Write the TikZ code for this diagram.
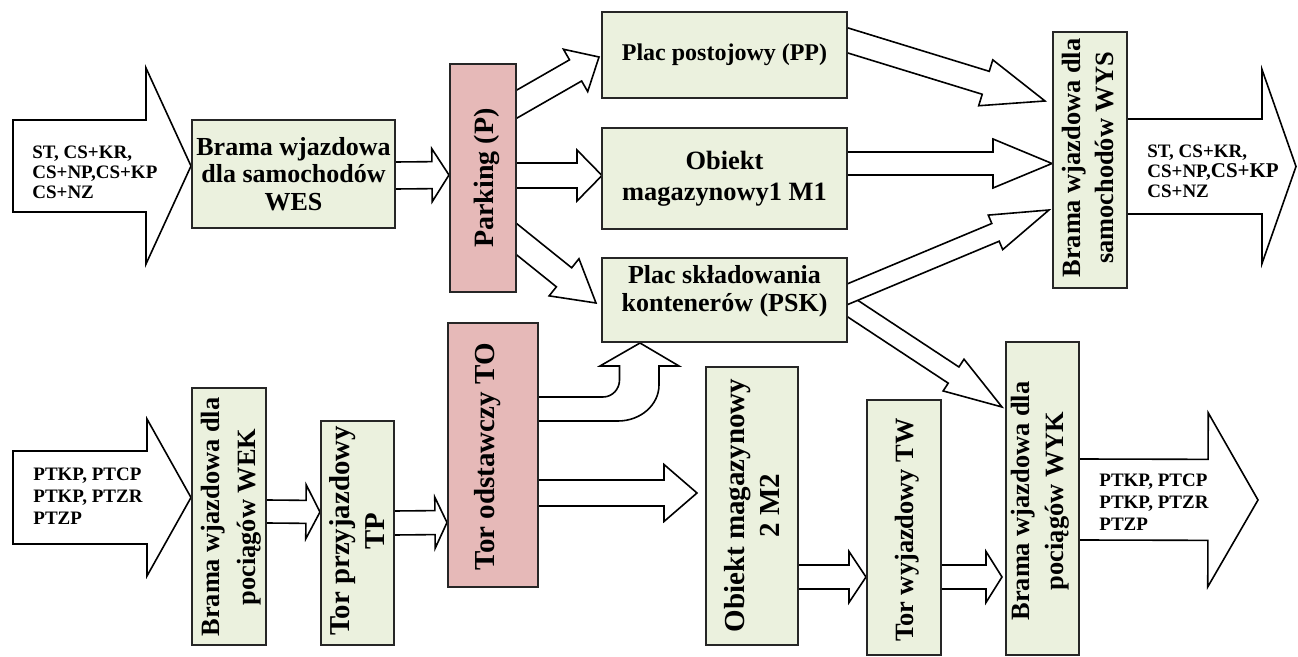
\documentclass[tikz,border=0pt]{standalone}
\usepackage{fontspec}
\setmainfont{Liberation Serif}
\usetikzlibrary{calc}
\pgfdeclarelayer{bg}
\pgfsetlayers{bg,main}
\definecolor{boxgreen}{HTML}{EBF1DE}
\definecolor{boxpink}{HTML}{E6B9B8}
% block arrow: [extension back into source] {start}{tip}{half shaft}{head length}{half head}
\newcommand{\barrow}[6][8pt]{%
  \path ($(#2)!-#1!(#3)$) coordinate (ba-s) ($(#3)!#5!(#2)$) coordinate (ba-c);
  \draw[arrowbody] ($(ba-s)!#4!90:(#3)$) -- ($(ba-c)!#4!90:(#3)$) -- ($(ba-c)!#6!90:(#3)$) -- (#3)
    -- ($(ba-c)!#6!-90:(#3)$) -- ($(ba-c)!#4!-90:(#3)$) -- ($(ba-s)!#4!-90:(#3)$) -- cycle;}
\tikzset{
  arrowbody/.style={draw=black, fill=white, line width=0.8pt, line join=miter},
  gbox/.style={draw=black!85, fill=boxgreen, line width=1pt, inner sep=0pt},
  pbox/.style={gbox, fill=boxpink},
  vtext/.style={rotate=90, align=center, inner sep=0pt},
  htext/.style={align=center, inner sep=0pt},
  lbl/.style={anchor=west, align=left, inner sep=0pt, font=\fontsize{9.5}{10}\selectfont\bfseries},
}
\begin{document}
\begin{tikzpicture}[x=0.5pt, y=-0.5pt]
\useasboundingbox (0,0) rectangle (1298,657);

% ---------- boxes ----------
\node[gbox, minimum width=101.5pt, minimum height=54pt, htext,
      font=\fontsize{13}{13.8}\selectfont\bfseries] (wes) at (293.5,174) {Brama wjazdowa\\dla samochodów\\WES};
\node[pbox, minimum width=33pt, minimum height=114pt] (park) at (483,178) {};
\node[vtext, font=\fontsize{14}{16}\selectfont\bfseries] (park-t) at (487,178) {Parking (P)};

\node[gbox, minimum width=122.5pt, minimum height=43pt, htext,
      font=\fontsize{12}{14}\selectfont\bfseries] (pp) at (724.5,55) {Plac postojowy (PP)};
\node[gbox, minimum width=122.5pt, minimum height=50.5pt, htext,
      font=\fontsize{13.2}{15.5}\selectfont\bfseries] (m1) at (724.5,178.5) {Obiekt\\magazynowy1 M1};
\node[gbox, minimum width=122.5pt, minimum height=42pt] (psk) at (724.5,300) {};
\node[htext, font=\fontsize{13}{14}\selectfont\bfseries] (psk-t) at (724.5,291) {Plac składowania\\kontenerów (PSK)};

\node[gbox, minimum width=37pt, minimum height=128pt] (wys) at (1090,160) {};
\node[vtext, font=\fontsize{13.2}{16.5}\selectfont\bfseries] (wys-t) at (1088.5,158) {Brama wjazdowa dla\\samochodów WYS};

\node[gbox, minimum width=37pt, minimum height=128.5pt] (wek) at (229,516.5) {};
\node[vtext, font=\fontsize{13.2}{18}\selectfont\bfseries] (wek-t) at (231,517) {Brama wjazdowa dla\\pociągów WEK};

\node[gbox, minimum width=36.5pt, minimum height=112pt] (tp) at (357.5,533) {};
\node[vtext, font=\fontsize{14.4}{17.5}\selectfont\bfseries] (tp-t) at (357.5,531) {Tor przyjazdowy\\TP};

\node[pbox, minimum width=45pt, minimum height=132pt] (to) at (493,455) {};
\node[vtext, font=\fontsize{14.5}{17}\selectfont\bfseries] (to-t) at (488,457) {Tor odstawczy TO};

\node[gbox, minimum width=46pt, minimum height=139pt] (m2) at (752,506) {};
\node[vtext, font=\fontsize{14.5}{17.5}\selectfont\bfseries] (m2-t) at (751.5,505.5) {Obiekt magazynowy\\2 M2};

\node[gbox, minimum width=37pt, minimum height=127.5pt] (tw) at (904,527.5) {};
\node[vtext, font=\fontsize{13.2}{16}\selectfont\bfseries] (tw-t) at (907,530) {Tor wyjazdowy TW};

\node[gbox, minimum width=36.5pt, minimum height=156.5pt] (wyk) at (1042.5,498.5) {};
\node[vtext, font=\fontsize{13.2}{17}\selectfont\bfseries] (wyk-t) at (1040,501) {Brama wjazdowa dla\\pociągów WYK};

% ---------- labels on the big arrows ----------
\node[lbl] (l1) at (32,172) {ST, CS+KR,\\CS+NP,CS+KP\\CS+NZ};
\node[lbl] (l2) at (1147,171) {ST, CS+KR,\\CS+NP,{\fontsize{10.5}{10}\selectfont CS+KP}\\CS+NZ};
\node[lbl, font=\fontsize{9.5}{11}\selectfont\bfseries] (l3) at (33,496) {PTKP, PTCP\\PTKP, PTZR\\PTZP};
\node[lbl, font=\fontsize{9.5}{11}\selectfont\bfseries] (l4) at (1099,502) {PTKP, PTCP\\PTKP, PTZR\\PTZP};

% ---------- connector end points ----------
\coordinate (in1) at (13,166);
\coordinate (in2) at (13,497.5);
\coordinate (out1) at (1296,166.5);
\coordinate (out2) at (1258,500);

\coordinate (a1e) at ($(wes.west)+(0,-8)$);
\coordinate (a2s) at ($(wes.east)+(0,1.5)$);   \coordinate (a2e) at ($(park.west)+(0,-3)$);
\coordinate (a3s) at ($(park.east)+(0,-74)$);  \coordinate (a3e) at ($(pp.west)+(-2,2)$);
\coordinate (a4s) at ($(park.east)+(0,-2.5)$); \coordinate (a4e) at ($(m1.west)+(1,-3)$);
\coordinate (a5s) at ($(park.east)+(0,61.5)$); \coordinate (a5e) at ($(psk.west)+(-5,3)$);
\coordinate (a6s) at ($(pp.east)+(0,-14.5)$);  \coordinate (a6e) at ($(wys.west)+(-7,-59)$);
\coordinate (a7s) at ($(m1.east)+(0,-15)$);    \coordinate (a7e) at ($(wys.west)+(0,3.5)$);
\coordinate (a8s) at ($(psk.east)+(0,-6)$);    \coordinate (a8e) at ($(wys.west)+(-3,50)$);
\coordinate (a9s) at ($(psk.east)+(0,5.5)$);   \coordinate (a9e) at ($(wyk.west)+(-3,-91.5)$);
\coordinate (b1s) at ($(to.east)+(0,38)$);     \coordinate (b1e) at ($(m2.west)+(-8,-13)$);
\coordinate (b2s) at ($(tp.east)+(0,-10)$);    \coordinate (b2e) at ($(to.west)+(0,67.5)$);
\coordinate (b3s) at ($(wek.east)+(0,-5)$);    \coordinate (b3e) at ($(tp.west)+(0,-21)$);
\coordinate (b4e) at ($(wek.west)+(0,-19)$);
\coordinate (b5s) at ($(m2.east)+(0,71)$);     \coordinate (b5e) at ($(tw.west)+(0,49.5)$);
\coordinate (b6s) at ($(tw.east)+(0,49.5)$);   \coordinate (b6e) at ($(wyk.west)+(-3,78.5)$);
\coordinate (b7s) at ($(wyk.east)+(0,1)$);
\coordinate (a0s) at ($(wys.east)+(0,6.5)$);
\coordinate (cu-s) at ($(to.east)+(0,-58)$);

% ---------- block arrows (behind the boxes) ----------
\begin{pgfonlayer}{bg}
\barrow[0pt]{in1}{a1e}{23pt}{22.5pt}{49pt}
\barrow{a2s}{a2e}{6.75pt}{8.5pt}{13.25pt}
\barrow{a3s}{a3e}{6.1pt}{13.5pt}{12.2pt}
\barrow{a4s}{a4e}{6.25pt}{12.5pt}{12.75pt}
\barrow{a5s}{a5e}{6.1pt}{20.5pt}{11.9pt}
\barrow{a6s}{a6e}{6pt}{31pt}{12pt}
\barrow{a7s}{a7e}{5.75pt}{29.5pt}{12.25pt}
\barrow{a9s}{a9e}{4.85pt}{29pt}{9.5pt}
\barrow{a8s}{a8e}{4.8pt}{29pt}{9.35pt}
\barrow{a0s}{out1}{23.75pt}{17pt}{48.5pt}
\barrow[0pt]{in2}{b4e}{23.25pt}{22pt}{39.25pt}
\barrow{b3s}{b3e}{5.75pt}{7pt}{13.5pt}
\barrow{b2s}{b2e}{6pt}{6pt}{12.75pt}
\barrow{b1s}{b1e}{6.5pt}{16.5pt}{14.25pt}
\barrow{b5s}{b5e}{6pt}{8.5pt}{12.75pt}
\barrow{b6s}{b6e}{6pt}{8pt}{12.75pt}
\barrow{b7s}{out2}{20.25pt}{25pt}{43.5pt}
% bent-up arrow from TO to PSK
\begin{scope}[shift={(cu-s)}]
\draw[arrowbody] (-12,0) -- (64,0) .. controls (73.1,0) and (80.5,-7.6) .. (80.5,-17)
  -- (80.5,-31) -- (61,-31) -- (101,-54) -- (140,-31) -- (120,-31) -- (120,-12)
  .. controls (120,7.9) and (101.6,24) .. (79,24) -- (-12,24) -- cycle;
\end{scope}
\end{pgfonlayer}
\end{tikzpicture}
\end{document}
